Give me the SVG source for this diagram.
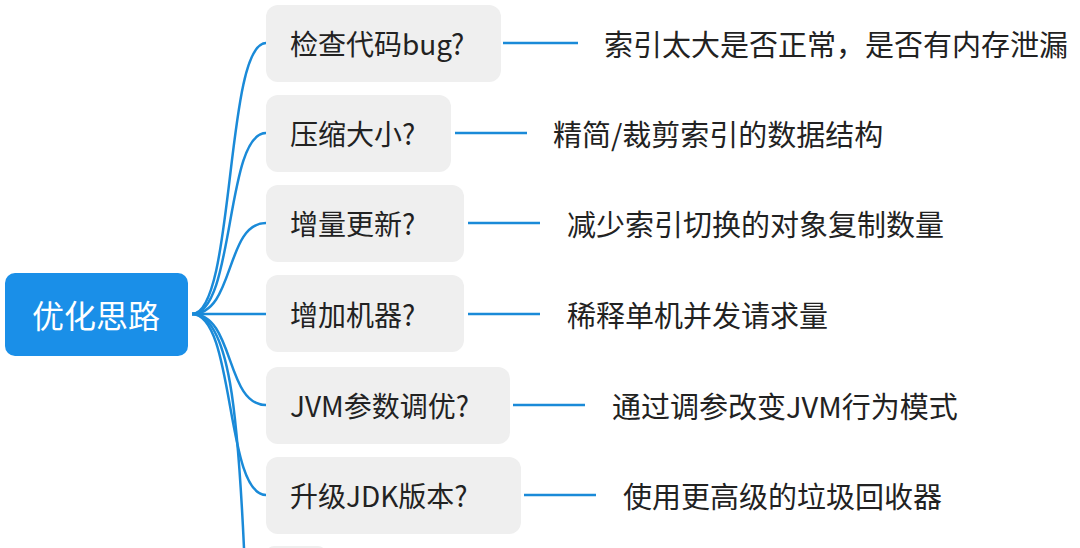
<svg xmlns="http://www.w3.org/2000/svg" width="1080" height="548" viewBox="0 0 1080 548">
<style>
.b{fill:#efefef}
.t{font-family:"Noto Sans CJK SC","Liberation Sans",sans-serif;font-size:28px;fill:#222;dominant-baseline:central}
.r{font-size:29px}
.c{fill:none;stroke:#1a8ad8;stroke-width:2.5}
</style>
<rect width="1080" height="548" fill="#fff"/>
<g id="connectors">
<path class="c" d="M192,314 C235,314 225,43 266,43"/>
<path class="c" d="M192,314 C235,314 225,133 266,133"/>
<path class="c" d="M192,314 C235,314 225,223 266,223"/>
<path class="c" d="M192,314 L266,314"/>
<path class="c" d="M192,314 C235,314 225,405 266,405"/>
<path class="c" d="M192,314 C235,314 225,495 266,495"/>
<path class="c" d="M192,314 C230,314 238,420 244,548"/>
<path class="c" d="M503,43 H578"/>
<path class="c" d="M455,133 H527"/>
<path class="c" d="M468,223 H540"/>
<path class="c" d="M468,314 H540"/>
<path class="c" d="M513,405 H585"/>
<path class="c" d="M524,495 H596"/>
</g>
<g id="root"><rect x="5" y="273" width="183" height="83" rx="10" fill="#1a8fe8"/><text x="96" y="314" text-anchor="middle" class="t" style="fill:#fff;font-size:32px">优化思路</text></g>
<g id="n1"><rect class="b" x="266" y="5" width="235" height="77" rx="12"/><text class="t" x="290" y="43">检查代码bug?</text></g>
<g id="n2"><rect class="b" x="266" y="95" width="185" height="77" rx="12"/><text class="t" x="290" y="133">压缩大小?</text></g>
<g id="n3"><rect class="b" x="266" y="185" width="198" height="77" rx="12"/><text class="t" x="290" y="223">增量更新?</text></g>
<g id="n4"><rect class="b" x="266" y="275" width="198" height="77" rx="12"/><text class="t" x="290" y="314">增加机器?</text></g>
<g id="n5"><rect class="b" x="266" y="367" width="244" height="77" rx="12"/><text class="t" x="290" y="405">JVM参数调优?</text></g>
<g id="n6"><rect class="b" x="266" y="457" width="255" height="77" rx="12"/><text class="t" x="290" y="495">升级JDK版本?</text></g>
<g id="n7"><rect class="b" x="266" y="546" width="60" height="20" rx="8"/></g>
<g id="l1"><text class="t r" x="604" y="43">索引太大是否正常，是否有内存泄漏</text></g>
<g id="l2"><text class="t r" x="553" y="133">精简/裁剪索引的数据结构</text></g>
<g id="l3"><text class="t r" x="567" y="223">减少索引切换的对象复制数量</text></g>
<g id="l4"><text class="t r" x="567" y="314">稀释单机并发请求量</text></g>
<g id="l5"><text class="t r" x="612" y="405">通过调参改变JVM行为模式</text></g>
<g id="l6"><text class="t r" x="623" y="495">使用更高级的垃圾回收器</text></g>
</svg>
